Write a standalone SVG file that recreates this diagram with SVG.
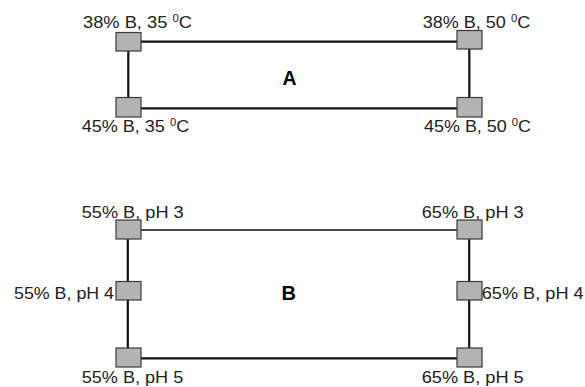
<svg xmlns="http://www.w3.org/2000/svg" width="585" height="387" viewBox="0 0 585 387">
<style>
.bg{fill:#ffffff}
.box{fill:#b3b3b3;stroke:#3a3a3a;stroke-width:1.2}
.lbl{font-family:"Liberation Sans",Arial,sans-serif;font-size:16px;fill:#222}
.sup{font-size:10px}
.big{font-family:"Liberation Sans",Arial,sans-serif;font-size:20px;font-weight:bold;fill:#000}
.thick{stroke:#111;stroke-width:2.2;fill:none}
.thin{stroke:#111;stroke-width:1.4;fill:none}
</style>
<rect class="bg" x="0" y="0" width="585" height="387"/>
<g id="connectors">
<line class="thick" x1="141" y1="41.7" x2="457" y2="41.7"/>
<line class="thick" x1="141" y1="108.3" x2="457" y2="108.3"/>
<line class="thick" x1="128.3" y1="50" x2="128.3" y2="98"/>
<line class="thick" x1="469.3" y1="49" x2="469.3" y2="98"/>
<line class="thin" x1="141" y1="230" x2="457" y2="230"/>
<line class="thick" x1="141" y1="358.3" x2="457" y2="358.3"/>
<line class="thick" x1="127.8" y1="239" x2="127.8" y2="348"/>
<line class="thick" x1="469.2" y1="239" x2="469.2" y2="348"/>
</g>
<g id="label-A"><text class="big" x="282.5" y="84.5" textLength="14" lengthAdjust="spacingAndGlyphs">A</text></g>
<g id="label-B"><text class="big" x="281.5" y="300" textLength="14.5" lengthAdjust="spacingAndGlyphs">B</text></g>
<g id="a-tl">
<rect class="box" x="116" y="32.5" width="25" height="18.5"/>
<text class="lbl" x="83" y="28" textLength="109" lengthAdjust="spacingAndGlyphs">38% B, 35 <tspan class="sup" dy="-6">0</tspan><tspan dy="6">C</tspan></text>
</g>
<g id="a-tr">
<rect class="box" x="457" y="30.5" width="25" height="18.5"/>
<text class="lbl" x="422.7" y="27.7" textLength="107.5" lengthAdjust="spacingAndGlyphs">38% B, 50 <tspan class="sup" dy="-6">0</tspan><tspan dy="6">C</tspan></text>
</g>
<g id="a-bl">
<rect class="box" x="116" y="97.5" width="25" height="19.5"/>
<text class="lbl" x="81.7" y="131.7" textLength="107.5" lengthAdjust="spacingAndGlyphs">45% B, 35 <tspan class="sup" dy="-6">0</tspan><tspan dy="6">C</tspan></text>
</g>
<g id="a-br">
<rect class="box" x="457" y="97.5" width="25" height="19.5"/>
<text class="lbl" x="424" y="131.7" textLength="107" lengthAdjust="spacingAndGlyphs">45% B, 50 <tspan class="sup" dy="-6">0</tspan><tspan dy="6">C</tspan></text>
</g>
<g id="b-tl">
<rect class="box" x="116" y="220" width="25" height="19"/>
<text class="lbl" x="81.7" y="217.5" textLength="102" lengthAdjust="spacingAndGlyphs">55% B, pH 3</text>
</g>
<g id="b-ml">
<rect class="box" x="116" y="281.5" width="25" height="18.5"/>
<text class="lbl" x="14" y="299" textLength="100" lengthAdjust="spacingAndGlyphs">55% B, pH 4</text>
</g>
<g id="b-bl">
<rect class="box" x="116" y="348" width="25" height="19"/>
<text class="lbl" x="81.7" y="383" textLength="101.5" lengthAdjust="spacingAndGlyphs">55% B, pH 5</text>
</g>
<g id="b-tr">
<rect class="box" x="457" y="220" width="25" height="19"/>
<text class="lbl" x="421.7" y="217.5" textLength="102" lengthAdjust="spacingAndGlyphs">65% B, pH 3</text>
</g>
<g id="b-mr">
<rect class="box" x="457" y="281.5" width="25" height="18.5"/>
<text class="lbl" x="481.7" y="299" textLength="102" lengthAdjust="spacingAndGlyphs">65% B, pH 4</text>
</g>
<g id="b-br">
<rect class="box" x="457" y="348" width="25" height="19"/>
<text class="lbl" x="421.7" y="383" textLength="102" lengthAdjust="spacingAndGlyphs">65% B, pH 5</text>
</g>
</svg>
